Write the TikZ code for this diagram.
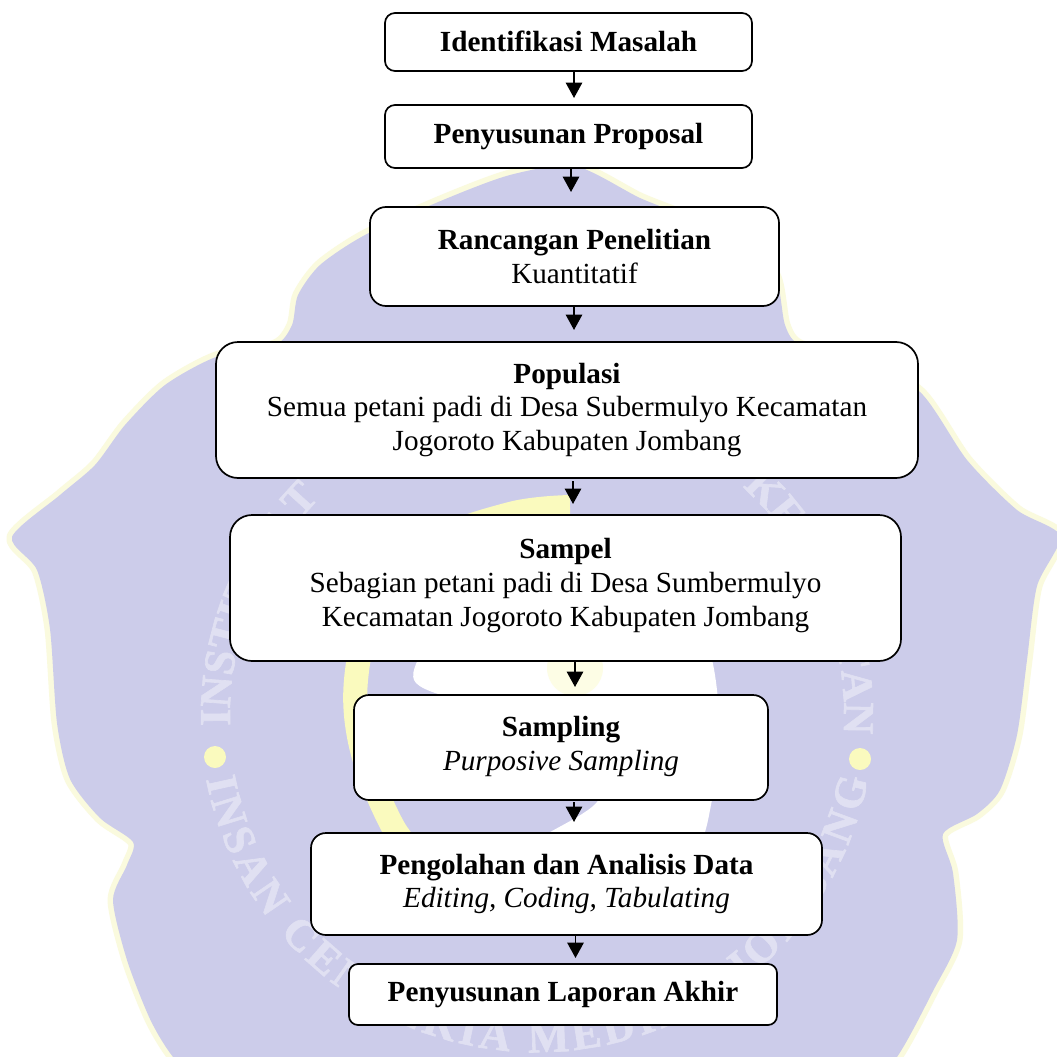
\documentclass[tikz,border=0pt]{standalone}
\usepackage{fontspec}
\setmainfont{Liberation Serif}
\newfontfamily\wmfont{Liberation Serif}[UprightFont=* Bold,FakeBold=1.5]
\usetikzlibrary{arrows.meta,decorations.text}
\definecolor{wmlav}{RGB}{204,204,234}
\definecolor{wmrim}{RGB}{250,250,222}
\definecolor{wmyel}{RGB}{250,250,190}
\definecolor{wmtxt}{RGB}{224,224,242}
\tikzset{
  flowbox/.style={draw=black,line width=1.7pt,fill=white,align=center,inner sep=0pt,outer sep=0pt,
    font=\fontsize{29.2}{33.8}\selectfont},
  flowarrow/.style={line width=1.8pt,-{Triangle[length=15.5pt,width=16.5pt]},shorten >=0pt}
}
\newcommand{\hd}[1]{\textbf{#1}}
\newcommand{\dn}[1]{\rule[-#1pt]{0pt}{0pt}}
\newcommand{\st}[2]{\rule[-#2pt]{0pt}{#1pt}}
\begin{document}
\begin{tikzpicture}[x=1pt,y=-1pt]
\useasboundingbox (0,0) rectangle (1057,1057);
\fill[white] (0,0) rectangle (1057,1057);
\begin{scope}
\clip (0,0) rectangle (1057,1057);
\def\outline{plot[smooth cycle,tension=.45] coordinates {
 (575,166) (640,198) (690,218) (740,243) (775,275) (785,325) (800,345) (854,357) (920,392) (967,460) (1017,510) (1060,536)
 (1037,586) (1027,660) (1017,735) (1000,790) (977,814) (943,834) (953,873) (957,940) (933,991) (897,1057) (850,1110)
 (220,1110) (173,1057) (150,1019) (127,960) (113,900) (127,865) (133,842) (100,818) (70,779) (57,723) (50,629) (37,570)
 (12,537) (60,495) (95,465) (125,425) (165,385) (216,357) (275,345) (292,325) (298,295) (320,265) (365,235) (443,200) (510,175)}}
\draw[wmrim,line width=11pt,line join=round] \outline;
\fill[wmlav] \outline;
% inner medallion
\fill[white] plot[smooth cycle,tension=.5] coordinates {(414,680) (470,600) (590,550) (690,610) (717,690) (712,800) (680,860) (530,850) (600,795) (520,720)};
\fill[wmyel,opacity=.4] (575,668) circle (28pt);
\draw[wmyel,line width=24pt] plot[smooth,tension=.6] coordinates {(570,507) (510,514) (430,545) (375,610) (356,680) (362,750) (392,825) (420,860)};
% ring lettering
\path[decorate,decoration={text along path,text align={fit to path},
  text={|\wmfont\fontsize{44}{44}\selectfont\color{wmtxt}|INSTITUT T}}]
  (537,715) ++(178:307) arc[start angle=178,end angle=225,radius=307];
\path[decorate,decoration={text along path,text align={fit to path},
  text={|\wmfont\fontsize{44}{44}\selectfont\color{wmtxt}|KESEHATAN}}]
  (537,715) ++(312:307) arc[start angle=312,end angle=362,radius=307];
\path[decorate,decoration={text along path,text align={fit to path},
  text={|\wmfont\fontsize{44}{44}\selectfont\color{wmtxt}|INSAN CENDEKIA MEDIKA JOMBANG}}]
  (537,715) ++(169:337) arc[start angle=169,end angle=11,radius=337];
\fill[wmyel] (215,757) circle (11pt) (860,759) circle (11pt);
\end{scope}
% boxes
\node[flowbox,rounded corners=10pt,minimum width=367pt,minimum height=58pt] (n1) at (568.5,42) {\hd{Identifikasi Masalah}\st{24}{2.6}};
\node[flowbox,rounded corners=10pt,minimum width=367pt,minimum height=63pt] (n2) at (568.5,136.5) {\hd{Penyusunan Proposal}\st{22}{7}};
\node[flowbox,rounded corners=16pt,minimum width=409pt,minimum height=99pt] (n3) at (574.5,256.5) {\hd{Rancangan Penelitian}\\Kuantitatif};
\node[flowbox,rounded corners=22pt,minimum width=702pt,minimum height=136pt] (n4) at (567,410) {\hd{Populasi}\\Semua petani padi di Desa Subermulyo Kecamatan\\Jogoroto Kabupaten Jombang};
\node[flowbox,rounded corners=22pt,minimum width=671pt,minimum height=146pt] (n5) at (565.5,588) {\hd{Sampel}\\Sebagian petani padi di Desa Sumbermulyo\\Kecamatan Jogoroto Kabupaten Jombang\dn{11.5}};
\node[flowbox,rounded corners=15pt,minimum width=414pt,minimum height=105pt] (n6) at (561,747.5) {\hd{Sampling}\\\textit{Purposive Sampling}\dn{8}};
\node[flowbox,rounded corners=15pt,minimum width=511pt,minimum height=102pt] (n7) at (566.5,884) {\hd{Pengolahan dan Analisis Data}\\\textit{Editing, Coding, Tabulating}};
\node[flowbox,rounded corners=9pt,minimum width=428pt,minimum height=61pt] (n8) at (563,994.5) {\hd{Penyusunan Laporan Akhir}\st{22}{5}};
% connectors
\draw[flowarrow] ([xshift=5.5pt,yshift=-1pt]n1.south) -- ([xshift=5.5pt,yshift=7pt]n2.north);
\draw[flowarrow] ([xshift=2.5pt]n2.south) -- ([xshift=-3.5pt,yshift=15pt]n3.north);
\draw[flowarrow] ([xshift=-.5pt]n3.south) -- ([xshift=7pt,yshift=12pt]n4.north);
\draw[flowarrow] ([xshift=6pt,yshift=-3pt]n4.south) -- ([xshift=7.5pt,yshift=11pt]n5.north);
\draw[flowarrow] ([xshift=9.5pt]n5.south) -- ([xshift=14pt,yshift=8pt]n6.north);
\draw[flowarrow] ([xshift=13pt,yshift=-2pt]n6.south) -- ([xshift=7.5pt,yshift=11pt]n7.north);
\draw[flowarrow] ([xshift=9pt]n7.south) -- ([xshift=12.5pt,yshift=6pt]n8.north);
\end{tikzpicture}
\end{document}
